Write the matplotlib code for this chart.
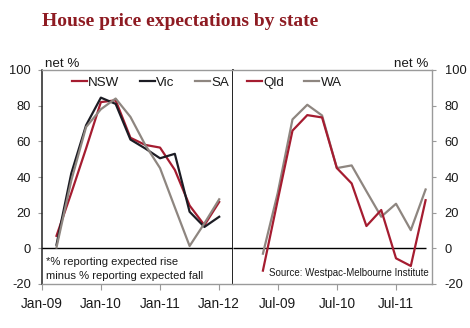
import matplotlib
matplotlib.use("Agg")
import matplotlib.pyplot as plt
import pandas as pd

# ---- data ----
quarters = ['Apr-09', 'Jul-09', 'Oct-09', 'Jan-10', 'Apr-10', 'Jul-10',
            'Oct-10', 'Jan-11', 'Apr-11', 'Jul-11', 'Oct-11', 'Jan-12']
nsw = [7, 31, 56, 82, 83, 62, 58, 56.5, 44, 24, 13, 26]
vic = [2, 42, 69, 84.5, 81, 61, 56, 50.5, 53, 20.5, 12, 17.7]
sa = [0.5, 38, 68, 78, 84, 73.7, 58, 45, 23, 1.3, 14, 27.5]
qld = [-12.5, 27, 66, 74.7, 73.4, 45, 36.4, 12.5, 21.5, -5.6, -9.9, 27]
wa = [-3, 31, 72.3, 80.5, 74.5, 45, 46.5, 32, 17.7, 25, 10.2, 33]

left_ticklabels = ['Jan-09', 'Jan-10', 'Jan-11', 'Jan-12']
right_ticklabels = ['Jul-09', 'Jul-10', 'Jul-11']
yticks = [-20, 0, 20, 40, 60, 80, 100]


def to_month(labels):
    d = pd.to_datetime(labels, format='%b-%y')
    return [(x.year - 2009) * 12 + (x.month - 1) for x in d]


x = to_month(quarters)
lt = to_month(left_ticklabels)
rt = to_month(right_ticklabels)

RED = '#A51C30'
DARK = '#1C1C24'
GREY = '#8E8680'
SPINE_GREY = '#9A9A9A'
TITLE = '#8E1B22'
TEXT = '#1A1A1A'
SANS = ['Liberation Sans', 'DejaVu Sans']
NARROW = ['Liberation Sans Narrow', 'Liberation Sans', 'DejaVu Sans']

plt.rcParams['font.family'] = SANS
plt.rcParams['text.color'] = TEXT
plt.rcParams['xtick.labelcolor'] = TEXT
plt.rcParams['ytick.labelcolor'] = TEXT

fig = plt.figure(figsize=(4.70, 3.28), dpi=100)
W, H = 470, 328


def fr(x0, y0, x1, y1):
    return [x0 / W, 1 - y1 / H, (x1 - x0) / W, (y1 - y0) / H]


axL = fig.add_axes(fr(41.7, 70, 232.5, 284))
axR = fig.add_axes(fr(232.5, 70, 432.3, 284))

lw = 1.6
axL.plot(x, nsw, color=RED, lw=lw, label='NSW', zorder=3)
axL.plot(x, vic, color=DARK, lw=lw, label='Vic', zorder=4)
axL.plot(x, sa, color=GREY, lw=lw, label='SA', zorder=5)
axR.plot(x, qld, color=RED, lw=lw, label='Qld', zorder=4)
axR.plot(x, wa, color=GREY, lw=lw, label='WA', zorder=3)

axL.set_xlim(0, 38.7)
axR.set_xlim(-3.17, 37.36)
for ax in (axL, axR):
    ax.set_ylim(-20, 100)

axL.axhline(0, color='black', lw=1.0, zorder=2)
axR.hlines(0, axR.get_xlim()[0], x[-1], color='black', lw=1.0, zorder=2)

# spines
for ax in (axL, axR):
    ax.spines['top'].set_color(SPINE_GREY)
    ax.spines['bottom'].set_color(SPINE_GREY)
    ax.spines['top'].set_linewidth(1.0)
    ax.spines['bottom'].set_linewidth(1.0)
axL.spines['left'].set_color('#222222')
axL.spines['left'].set_linewidth(1.1)
axL.spines['right'].set_color('#111111')
axL.spines['right'].set_linewidth(1.3)
axR.spines['left'].set_visible(False)
axR.spines['right'].set_color(SPINE_GREY)
axR.spines['right'].set_linewidth(1.0)

# ticks
axL.set_yticks(yticks)
axL.set_yticklabels([str(v) for v in yticks])
axR.set_yticks(yticks)
axR.set_yticklabels([str(v) for v in yticks])
axR.yaxis.tick_right()
axL.tick_params(axis='y', direction='out', length=3, color=SPINE_GREY,
                pad=4.8, labelsize=9.3, left=True, right=False)
axR.tick_params(axis='y', direction='out', length=3, color=SPINE_GREY,
                pad=6.0, labelsize=9.3, left=False, right=True,
                labelleft=False, labelright=True)

axL.set_xticks(lt)
axL.set_xticklabels(left_ticklabels)
axR.set_xticks(rt)
axR.set_xticklabels(right_ticklabels)
for ax in (axL, axR):
    ax.tick_params(axis='x', direction='out', length=4, color=SPINE_GREY,
                   pad=5.0, labelsize=9.8)

# legends
legkw = dict(frameon=False, handlelength=1.15, handletextpad=0.1,
             columnspacing=1.5, borderpad=0, borderaxespad=0,
             fontsize=9.6, loc='center left')
axL.legend(ncol=3, bbox_to_anchor=(0.157, 0.941), **legkw)
axR.legend(ncol=2, bbox_to_anchor=(0.071, 0.941), **legkw)

# labels
fig.text(45 / W, 1 - 67 / H, 'net %', fontsize=9.6, ha='left', va='baseline')
fig.text(428.5 / W, 1 - 67 / H, 'net %', fontsize=9.6, ha='right', va='baseline')

axL.text(0.02, 0.104, '*% reporting expected rise', transform=axL.transAxes,
         fontsize=8.1, ha='left', va='center')
axL.text(0.02, 0.038, 'minus % reporting expected fall', transform=axL.transAxes,
         fontsize=8.1, ha='left', va='center')
axR.text(0.984, 0.05, 'Source: Westpac-Melbourne Institute', transform=axR.transAxes,
         fontsize=7.0, ha='right', va='center', family=NARROW)

fig.text(41.7 / W, 1 - 26 / H, 'House price expectations by state',
         fontsize=14.0, fontweight='bold', color=TITLE, ha='left', va='baseline',
         family=['Liberation Serif', 'DejaVu Serif'])

fig.savefig('out.png', dpi=100)
